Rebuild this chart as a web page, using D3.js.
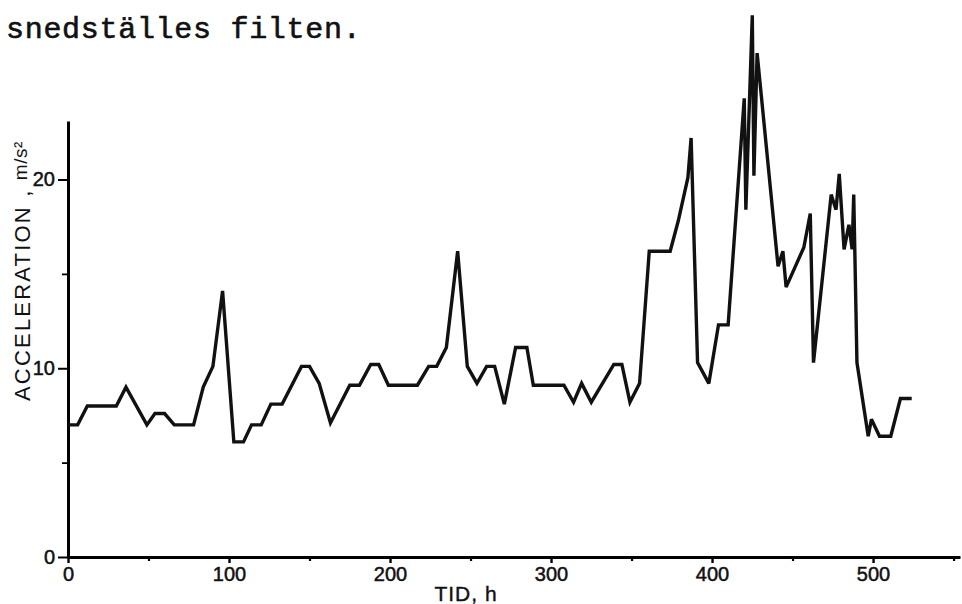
<!DOCTYPE html>
<html>
<head>
<meta charset="utf-8">
<script src="https://cdn.jsdelivr.net/npm/d3@7"></script>
<style>
  body { margin: 0; background: #fff; }
  text { fill: #111; }
</style>
</head>
<body>
<script>
const hours = [0, 6, 12, 30, 36, 49, 54, 60, 66, 78, 84, 90, 96, 103, 109, 114, 120, 126, 133, 145,
  150, 156, 163, 175, 181, 188, 193, 199, 217, 224, 229, 235, 242, 248, 254, 260, 265, 271, 278, 285,
  289, 308, 314, 319, 325, 339, 344, 349, 355, 361, 374, 379, 385, 387, 391, 398, 404, 410, 420, 421,
  425, 426, 428, 441, 444, 446, 457, 461, 463, 474, 477, 479, 482, 485, 487, 488, 490, 497, 499, 504,
  511, 517, 524];
const accel = [7.0, 7.0, 8.0, 8.0, 9.0, 7.0, 7.6, 7.6, 7.0, 7.0, 9.0, 10.1, 14.1, 6.1, 6.1, 7.0, 7.0, 8.1, 8.1, 10.1,
  10.1, 9.2, 7.1, 9.1, 9.1, 10.2, 10.2, 9.1, 9.1, 10.1, 10.1, 11.1, 16.2, 10.1, 9.2, 10.1, 10.1, 8.1, 11.1, 11.1,
  9.1, 9.1, 8.2, 9.2, 8.2, 10.2, 10.2, 8.2, 9.2, 16.2, 16.2, 17.8, 20.1, 22.2, 10.3, 9.2, 12.3, 12.3, 24.3, 18.4,
  28.7, 20.2, 26.7, 15.4, 16.2, 14.3, 16.4, 18.2, 10.3, 19.2, 18.4, 20.3, 16.3, 17.6, 16.3, 19.2, 10.3, 6.4, 7.3, 6.4,
  6.4, 8.4, 8.4];

// Ticks
const xMajor = [0, 100, 200, 300, 400, 500];
const xMinor = [50, 150, 250, 350, 450, 550];
const yMajor = [0, 10, 20];
const yMinor = [5, 15];

const width = 962;
const height = 604;
const font = "'Liberation Sans', Arial, sans-serif";

const x = d3.scaleLinear().domain([0, 554]).range([68, 960]);
const y = d3.scaleLinear().domain([0, 23.1]).range([557, 121]);

const svg = d3.select("body").append("svg")
    .attr("width", width)
    .attr("height", height)
    .attr("viewBox", [0, 0, width, height]);

// Typewritten line above the figure
svg.append("text")
    .attr("x", 6)
    .attr("y", 38)
    .attr("font-family", "'Liberation Mono', 'Courier New', monospace")
    .attr("font-size", 30)
    .attr("letter-spacing", 0.7)
    .attr("stroke", "#111")
    .attr("stroke-width", 0.6)
    .text("snedställes filten.");

// X axis
const xAxis = svg.append("g")
    .attr("transform", `translate(0,${y(0)})`)
    .call(d3.axisBottom(x).tickValues(xMajor).tickSize(6).tickSizeOuter(0).tickPadding(4));
xAxis.select(".domain").attr("stroke-width", 3);
xAxis.selectAll(".tick line").attr("stroke-width", 2.4);
xAxis.selectAll(".tick text")
    .attr("font-family", font)
    .attr("font-size", 20)
    .attr("stroke", "#111")
    .attr("stroke-width", 0.5);

svg.append("g")
    .attr("transform", `translate(0,${y(0)})`)
    .call(d3.axisBottom(x).tickValues(xMinor).tickSize(4).tickFormat(""))
    .call(g => g.select(".domain").remove())
    .selectAll(".tick line").attr("stroke-width", 2.2);

// Y axis
const yAxis = svg.append("g")
    .attr("transform", `translate(${x(0)},0)`)
    .call(d3.axisLeft(y).tickValues(yMajor).tickSize(10).tickSizeOuter(0).tickPadding(3));
yAxis.select(".domain").attr("stroke-width", 3);
yAxis.selectAll(".tick line").attr("stroke-width", 2);
yAxis.selectAll(".tick text")
    .attr("font-family", font)
    .attr("font-size", 20)
    .attr("stroke", "#111")
    .attr("stroke-width", 0.5);

svg.append("g")
    .attr("transform", `translate(${x(0)},0)`)
    .call(d3.axisLeft(y).tickValues(yMinor).tickSize(6).tickFormat(""))
    .call(g => g.select(".domain").remove())
    .selectAll(".tick line").attr("stroke-width", 1.8);

// Axis titles
svg.append("text")
    .attr("x", 466)
    .attr("y", 601)
    .attr("text-anchor", "middle")
    .attr("font-family", font)
    .attr("font-size", 21)
    .attr("letter-spacing", 1)
    .attr("stroke", "#111")
    .attr("stroke-width", 0.4)
    .text("TID, h");

const yTitle = svg.append("text")
    .attr("transform", "translate(30,401) rotate(-90)")
    .attr("font-family", font)
    .attr("font-size", 22)
    .attr("letter-spacing", 2.2);
yTitle.append("tspan").text("ACCELERATION , ");
yTitle.append("tspan")
    .attr("font-size", 19)
    .attr("letter-spacing", 0.5)
    .attr("dy", -3)
    .text("m/s²");

// Measured curve
const line = d3.line()
    .x((d, i) => x(hours[i]))
    .y(d => y(d));

svg.append("path")
    .datum(accel)
    .attr("fill", "none")
    .attr("stroke", "#111")
    .attr("stroke-width", 3.4)
    .attr("stroke-linejoin", "miter")
    .attr("stroke-miterlimit", 3)
    .attr("d", line);
</script>
</body>
</html>
